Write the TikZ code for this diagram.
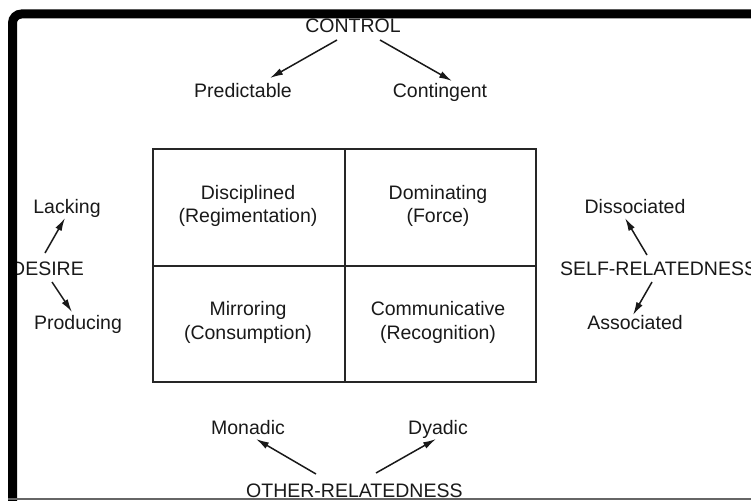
\documentclass[tikz,border=0pt]{standalone}
\usepackage{fontspec}
\setmainfont{Liberation Sans}
\usetikzlibrary{calc,arrows.meta}

\tikzset{
  lbl/.style={anchor=base, inner sep=0pt, text=black!90,
    font=\fontsize{19.5}{24}\selectfont},
  arr/.style={-{Latex[length=13pt,width=7pt]}, line width=1.5pt, draw=black!90},
}

\begin{document}
\begin{tikzpicture}[x=1pt,y=-1pt]
    \useasboundingbox (0,0) rectangle (751,500);
    \clip (0,0) rectangle (751,500);

    % the four cells
    \draw[line width=1.5pt, black!85] (153,149) rectangle (536,382);
    \draw[line width=1.5pt, black!85] (345,149) -- (345,382);
    \draw[line width=1.5pt, black!85] (153,266) -- (536,266);
    \node[lbl] (disc)  at (248,199) {Disciplined};
    \node[lbl] (regim) at (248,222) {(Regimentation)};
    \node[lbl] (dom)   at (438,199) {Dominating};
    \node[lbl] (force) at (438,222) {(Force)};
    \node[lbl] (mirr)  at (248,315) {Mirroring};
    \node[lbl] (cons)  at (248,339) {(Consumption)};
    \node[lbl] (comm)  at (438,315) {Communicative};
    \node[lbl] (recog) at (438,339) {(Recognition)};

    % control, top
    \node[lbl] (control) at (353,33) {CONTROL};
    \node[lbl] (pred)    at (243,98) {Predictable};
    \node[lbl] (cont)    at (440,98) {Contingent};
    \draw[arr] ([shift={(-16,7)}]control.base) -- ([shift={(27,-20)}]pred.base);
    \draw[arr] ([shift={(27,7)}]control.base) -- ([shift={(12,-17)}]cont.base);

    % desire, left
    \node[lbl] (lack)   at (67,213) {Lacking};
    \node[lbl, anchor=base east] (desire) at (84,275) {DESIRE};
    \node[lbl] (prod)   at (78,329) {Producing};
    \draw[arr] ([shift={(-39,-22)}]desire.base east) -- ([shift={(-2,5)}]lack.base);
    \draw[arr] ([shift={(-32,7)}]desire.base east) -- ([shift={(-6,-17)}]prod.base);

    % self-relatedness, right
    \node[lbl, anchor=base west] (self) at (560,275) {SELF-RELATEDNESS};
    \node[lbl] (dissoc) at (635,213) {Dissociated};
    \node[lbl] (assoc)  at (635,329) {Associated};
    \draw[arr] ([shift={(87,-20)}]self.base west) -- ([shift={(-10,5)}]dissoc.base);
    \draw[arr] ([shift={(92,7)}]self.base west) -- ([shift={(-2,-14)}]assoc.base);

    % other-relatedness, bottom
    \node[lbl] (mon) at (248,434) {Monadic};
    \node[lbl] (dya) at (438,434) {Dyadic};
    \node[lbl, anchor=base west] (other) at (246,497) {OTHER-RELATEDNESS};
    \draw[arr] ([shift={(70,-23)}]other.base west) -- ([shift={(8,5)}]mon.base);
    \draw[arr] ([shift={(130,-24)}]other.base west) -- ([shift={(-2,5)}]dya.base);

    % frame
    \draw[line width=9pt, rounded corners=9pt] (12.5,510) -- (12.5,14) -- (760,14);
    \draw[line width=2pt, black!60] (8,499) -- (751,499);
\end{tikzpicture}
\end{document}
